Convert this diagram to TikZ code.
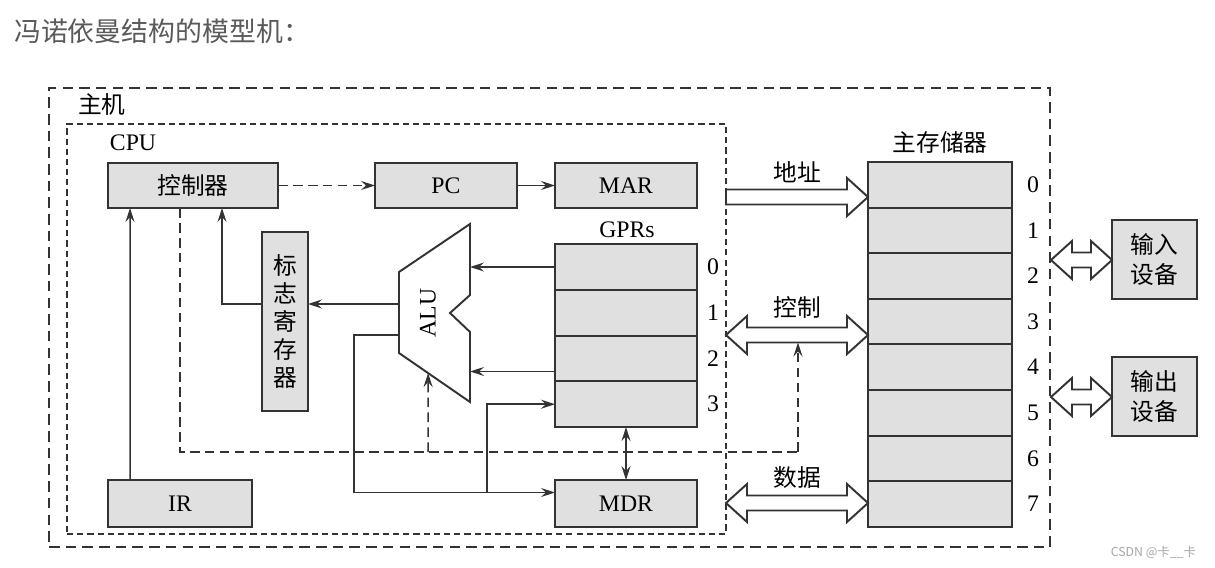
\documentclass[tikz,border=0pt]{standalone}
\usepackage{fontspec}
\setmainfont{Liberation Serif}
\newfontfamily\cjk{Noto Sans CJK SC}
\usepackage{xcolor}
\usepackage{tikz}
\usetikzlibrary{positioning,fit,calc,arrows.meta}
\definecolor{ink}{HTML}{333333}
\definecolor{boxgray}{HTML}{E0E0E0}
\definecolor{titlegray}{HTML}{5A5A5A}
% hollow bus arrows, from (#1) to (#2)
\newcommand{\dbus}[2]{\draw[bus] (#1) -- ++(21,-19) -- ++(0,11.5) -- ($(#2)+(-21,-7.5)$) -- ++(0,-11.5) -- (#2) -- ++(-21,19) -- ++(0,-11.5) -- ($(#1)+(21,7.5)$) -- ++(0,11.5) -- cycle;}
\newcommand{\sbus}[2]{\draw[bus] ($(#1)+(0,-7.5)$) -- ($(#2)+(-21,-7.5)$) -- ++(0,-11.5) -- (#2) -- ++(-21,19) -- ++(0,-11.5) -- ($(#1)+(0,7.5)$) -- cycle;}

\begin{document}
\begin{tikzpicture}[x=0.02cm, y=-0.02cm,
  font=\fontsize{13.5}{16}\selectfont,
  reg/.style={draw=ink, line width=1.1pt, fill=boxgray, inner sep=0pt, outer sep=0pt},
  cell/.style={reg, minimum width=2.84cm, minimum height=0.915cm},
  memcell/.style={reg, minimum width=2.88cm, minimum height=0.912cm},
  wire/.style={draw=ink, line width=0.85pt},
  arr/.style={wire, -{Stealth[length=2.8mm,width=1.8mm,inset=1mm]}},
  dbl/.style={wire, {Stealth[length=2.8mm,width=1.8mm,inset=1mm]}-{Stealth[length=2.8mm,width=1.8mm,inset=1mm]}},
  ctl/.style={dash pattern=on 5.5pt off 3pt},
  bus/.style={draw=ink, line width=1.1pt, fill=white},
  cn/.style={font=\cjk\fontsize{13.5}{16}\selectfont}]
\useasboundingbox (0,0) rectangle (1215,568);
\fill[white] (0,0) rectangle (1215,568);

% title
\node[anchor=west, text=titlegray, font=\cjk\fontsize{15.3}{18}\selectfont] (title) at (8,31) {冯诺依曼结构的模型机：};

% host and CPU frames
\node[fit={(49,88) (1050,547)}, inner sep=0pt, draw=ink, line width=0.8pt, dash pattern=on 6pt off 3.5pt] (host) {};
\node[cn] (hostlbl) at (102,104) {主机};
\node[fit={(67,124) (726,534)}, inner sep=0pt, draw=ink, line width=0.7pt, dash pattern=on 3.5pt off 2.3pt] (cpu) {};
\node (cpulbl) at (133,143) {CPU};

% registers
\node[reg, cn, minimum width=3.4cm, minimum height=0.9cm] (ctrl) at (193,185.5) {控制器};
\node[reg, minimum width=2.84cm, minimum height=0.9cm] (pc) at (446,185.5) {PC};
\node[reg, minimum width=2.84cm, minimum height=0.9cm, right=0.76cm of pc] (mar) {MAR};
\node[reg, minimum width=2.88cm, minimum height=0.94cm] (ir) at (180,503.5) {IR};
\node[reg, minimum width=2.84cm, minimum height=0.94cm] (mdr) at (626,503.5) {MDR};
\node[reg, align=center, minimum width=0.92cm, minimum height=3.58cm, font=\cjk\fontsize{13.5}{15.9}\selectfont] (flags) at (285,321.5) {标\\志\\寄\\存\\器};

% GPRs
\node[cell] (gpr0) at (626,267) {};
\foreach \i [remember=\i as \j (initially 0)] in {1,2,3}
  \node[cell, below=0pt of gpr\j] (gpr\i) {};
\foreach \i in {0,...,3}
  \node (gpn\i) at ($(gpr\i.east)+(16,0)$) {\i};
\node (gprlbl) at (627,230) {GPRs};

% ALU
\coordinate (aluTR) at (470,224);
\coordinate (aluTL) at (399,272);
\coordinate (aluBL) at (399,353);
\coordinate (aluBR) at (470,402);
\coordinate (aluN1) at (470,295);
\coordinate (aluN) at (450,313);
\coordinate (aluN2) at (470,332);
\draw[draw=ink, line width=1.1pt, fill=white] (aluTR) -- (aluTL) -- (aluBL) -- (aluBR) -- (aluN2) -- (aluN) -- (aluN1) -- cycle;
\node[rotate=90] (alulbl) at (428,313) {ALU};
\coordinate (aluO) at (399,304);
\coordinate (aluI) at (399,335);

% main memory
\node[memcell] (mem0) at (940,184.8) {};
\foreach \i [remember=\i as \j (initially 0)] in {1,...,7}
  \node[memcell, below=0pt of mem\j] (mem\i) {};
\foreach \i in {0,...,7}
  \node (memn\i) at ($(mem\i.east)+(21,0)$) {\i};
\node[cn] (memlbl) at (940,142) {主存储器};

% I/O devices
\node[reg, align=center, minimum width=1.7cm, minimum height=1.58cm, font=\cjk\fontsize{13.5}{17.6}\selectfont] (indev) at (1154.5,259.5) {输入\\设备};
\node[reg, align=center, minimum width=1.7cm, minimum height=1.58cm, font=\cjk\fontsize{13.5}{17.6}\selectfont] (outdev) at (1154.5,396.5) {输出\\设备};

% wires inside the CPU
\draw[arr, ctl] (ctrl) -- (pc);
\draw[arr] (pc) -- (mar);
\draw[arr] ($(ir.north west)+(22,0)$) -- ($(ctrl.south west)+(22,0)$);
\draw[arr] ($(flags.west)+(0,-17.5)$) -| ($(ctrl.south west)+(114,0)$);
\draw[arr] (aluO) -- (aluO -| flags.east);
\draw[arr] (gpr0.west) -- (gpr0.west -| aluTR);
\coordinate (g2o) at ($(gpr2.west)+(0,13)$);
\draw[arr] (g2o) -- (g2o -| aluTR);
\draw[arr] (aluI) -- ++(-45,0) |- ($(mdr.west)+(0,-11)$);
\draw[arr] ($(mdr.west)+(-68,-11)$) |- (gpr3.west);
\draw[dbl] (gpr3.south) -- (mdr.north);

% buses
\coordinate (addrA) at (726,197);
\coordinate (addrB) at (mem0.west |- addrA);
\coordinate (ctlA) at (726,335);
\coordinate (ctlB) at (mem3.west |- ctlA);
\coordinate (datA) at (726,503);
\coordinate (datB) at (mem7.west |- datA);
\coordinate (inA) at (1051,260);
\coordinate (inB) at (indev.west |- inA);
\coordinate (outA) at (1051,397);
\coordinate (outB) at (outdev.west |- outA);
\sbus{addrA}{addrB}
\dbus{ctlA}{ctlB}
\dbus{datA}{datB}
\dbus{inA}{inB}
\dbus{outA}{outB}
\node[cn] (addrlbl) at ($(addrA)!0.5!(addrB)+(0,-25)$) {地址};
\node[cn] (ctllbl) at ($(ctlA)!0.5!(ctlB)+(0,-28)$) {控制};
\node[cn] (datlbl) at ($(datA)!0.5!(datB)+(0,-25)$) {数据};

% control signals
\coordinate (sig) at (798,452);
\draw[wire, ctl] ($(ctrl.south west)+(72,0)$) |- (sig);
\draw[arr, ctl] (sig) -- ($(sig |- ctlA)+(0,7.5)$);
\draw[arr, ctl] (sig -| alulbl) -- ($(aluBL)!0.41!(aluBR)$);

\node[anchor=east, text=gray!70, font=\cjk\fontsize{7}{8}\selectfont] (mark) at (1202,552) {CSDN @卡\_\_卡};
\end{tikzpicture}
\end{document}
